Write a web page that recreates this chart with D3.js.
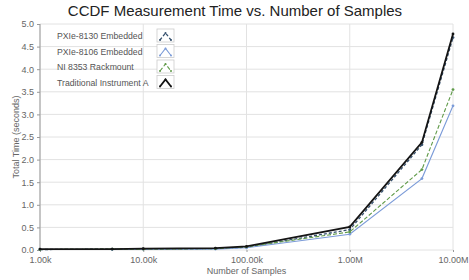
<!DOCTYPE html>
<html>
<head>
<meta charset="utf-8">
<script src="https://cdn.jsdelivr.net/npm/d3@7"></script>
<style>
  body { margin: 0; background: #fff; }
  svg { font-family: "Liberation Sans", Arial, sans-serif; }
  .grid line { stroke: #e2e2e2; }
  .axis text { fill: #666; font-size: 9px; }
  .axis path, .axis line { stroke: #999; }
</style>
</head>
<body>
<svg id="chart" width="469" height="280"></svg>
<script>
var samples = [1e3, 5e3, 1e4, 5e4, 1e5, 1e6, 5e6, 1e7];
var seriesNames = ["PXIe-8130 Embedded", "PXIe-8106 Embedded", "NI 8353 Rackmount", "Traditional Instrument A"];
var pxie8130 = [0.01, 0.02, 0.02, 0.03, 0.06, 0.45, 2.33, 4.70];
var pxie8106 = [0.01, 0.01, 0.02, 0.02, 0.05, 0.35, 1.58, 3.19];
var ni8353 = [0.01, 0.02, 0.02, 0.03, 0.07, 0.40, 1.78, 3.55];
var tradA = [0.02, 0.02, 0.03, 0.04, 0.08, 0.51, 2.38, 4.78];
var xTicks = [1e3, 1e4, 1e5, 1e6, 1e7];
var xTickLabels = ["1.00k", "10.00k", "100.00k", "1.00M", "10.00M"];
var yTicks = [0, 0.5, 1, 1.5, 2, 2.5, 3, 3.5, 4, 4.5, 5];

var styles = [
  {color: "#35506e", width: 1.3, dash: "3,2"},
  {color: "#7b9bd8", width: 1.1, dash: null},
  {color: "#5f9a48", width: 1.1, dash: "4,2"},
  {color: "#141414", width: 1.8, dash: null}
];
var allSeries = [pxie8130, pxie8106, ni8353, tradA];

var svg = d3.select("#chart"),
    margin = {top: 24, right: 16, bottom: 30, left: 40},
    width = 469 - margin.left - margin.right,
    height = 280 - margin.top - margin.bottom;

var x = d3.scaleLog().domain([1e3, 1e7]).range([0, width]);
var y = d3.scaleLinear().domain([0, 5]).range([height, 0]);

var g = svg.append("g")
    .attr("transform", "translate(" + margin.left + "," + margin.top + ")");

// grid
g.append("g").attr("class", "grid")
  .selectAll("line.h").data(yTicks).enter().append("line")
    .attr("x1", 0).attr("x2", width)
    .attr("y1", function(d) { return y(d); }).attr("y2", function(d) { return y(d); });
g.append("g").attr("class", "grid")
  .selectAll("line.v").data(xTicks).enter().append("line")
    .attr("y1", 0).attr("y2", height)
    .attr("x1", function(d) { return x(d); }).attr("x2", function(d) { return x(d); });

g.append("g")
    .attr("class", "axis")
    .attr("transform", "translate(0," + height + ")")
    .call(d3.axisBottom(x).tickValues(xTicks).tickSize(2)
      .tickFormat(function(d, i) { return xTickLabels[i]; }))
    .call(function(a) { a.select(".domain").remove(); a.selectAll("text").attr("dy", "0.9em"); });

g.append("g")
    .attr("class", "axis")
    .call(d3.axisLeft(y).tickValues(yTicks).tickSize(3).tickFormat(d3.format(".1f")))
    .call(function(a) { a.select(".domain").attr("d", "M0," + height + "V0"); });

var line = d3.line()
    .x(function(d, i) { return x(samples[i]); })
    .y(function(d) { return y(d); });

allSeries.forEach(function(s, k) {
  var st = styles[k];
  g.append("path")
    .datum(s)
    .attr("fill", "none")
    .attr("stroke", st.color)
    .attr("stroke-width", st.width)
    .attr("stroke-dasharray", st.dash)
    .attr("d", line);
  g.selectAll(".pt" + k).data(s).enter().append("circle")
    .attr("cx", function(d, i) { return x(samples[i]); })
    .attr("cy", function(d) { return y(d); })
    .attr("r", 1.4)
    .attr("fill", st.color);
});

// legend
var legend = svg.append("g").attr("transform", "translate(57,30)");
seriesNames.forEach(function(name, k) {
  var st = styles[k];
  var row = legend.append("g").attr("transform", "translate(0," + (k * 15.5) + ")");
  row.append("text").attr("x", 0).attr("y", 9)
    .attr("font-size", 8.7).attr("fill", "#555").text(name);
  row.append("rect").attr("x", 100).attr("y", -1).attr("width", 17).attr("height", 13)
    .attr("fill", "#fff").attr("stroke", "#ccc").attr("stroke-width", 0.8);
  row.append("path").attr("d", "M103,10 L108.5,3 L114,10")
    .attr("fill", "none").attr("stroke", st.color).attr("stroke-width", st.width)
    .attr("stroke-dasharray", st.dash);
  [[103, 10], [108.5, 3], [114, 10]].forEach(function(p) {
    row.append("circle").attr("cx", p[0]).attr("cy", p[1]).attr("r", 1).attr("fill", st.color);
  });
});

svg.append("text")
    .attr("x", 235).attr("y", 16)
    .attr("text-anchor", "middle")
    .attr("font-size", 15).attr("fill", "#222")
    .text("CCDF Measurement Time vs. Number of Samples");

svg.append("text")
    .attr("x", margin.left + width / 2).attr("y", 274)
    .attr("text-anchor", "middle")
    .attr("font-size", 9).attr("fill", "#666")
    .text("Number of Samples");

svg.append("text")
    .attr("transform", "translate(19," + (margin.top + height / 2) + ") rotate(-90)")
    .attr("text-anchor", "middle")
    .attr("font-size", 9).attr("fill", "#666")
    .text("Total Time (seconds)");
</script>
</body>
</html>
